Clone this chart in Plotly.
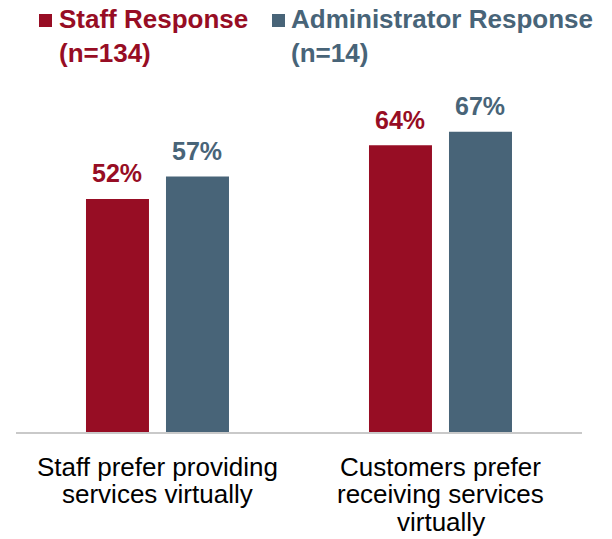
import plotly.graph_objects as go

# --- data ---------------------------------------------------------------
categories = [
    "Staff prefer providing<br>services virtually",
    "Customers prefer<br>receiving services<br>virtually",
]
staff_values = [52, 64]
admin_values = [57, 67]
series_names = ["Staff Response", "Administrator Response"]
series_counts = ["(n=134)", "(n=14)"]

# --- styling ------------------------------------------------------------
STAFF_COLOR = "#970D24"
ADMIN_COLOR = "#486478"
FONT = "Liberation Sans, Arial, sans-serif"
W, H = 612, 539
M_L, M_R, M_T, M_B = 16, 30, 100, 107
PLOT_W = W - M_L - M_R
PLOT_H = H - M_T - M_B

BAR_W = 0.2226          # in category units
STAFF_OFF = -0.2527
ADMIN_OFF = 0.0300
Y_MAX = 74.1

x_idx = list(range(len(categories)))

fig = go.Figure()
fig.add_trace(go.Bar(
    x=categories, y=staff_values, name=series_names[0],
    marker=dict(color=STAFF_COLOR, line=dict(width=0)),
    width=BAR_W, offset=STAFF_OFF, showlegend=False,
))
fig.add_trace(go.Bar(
    x=categories, y=admin_values, name=series_names[1],
    marker=dict(color=ADMIN_COLOR, line=dict(width=0)),
    width=BAR_W, offset=ADMIN_OFF, showlegend=False,
))

annotations = []

# value labels above each bar
for vals, off, color in ((staff_values, STAFF_OFF, STAFF_COLOR),
                         (admin_values, ADMIN_OFF, ADMIN_COLOR)):
    for i, v in zip(x_idx, vals):
        annotations.append(dict(
            x=i + off + BAR_W / 2, y=v, xref="x", yref="y",
            text=f"{v}%", showarrow=False,
            xanchor="center", yanchor="middle", yshift=25.7,
            borderpad=0, borderwidth=0,
            font=dict(family=FONT, size=25, color=color, weight="bold"),
        ))

# category labels under the axis, one line at a time
line_shifts = [-35, -62.3, -89.7]
for i, cat in zip(x_idx, categories):
    for k, line in enumerate(cat.split("<br>")):
        annotations.append(dict(
            x=i, y=0, xref="x", yref="paper",
            text=line, showarrow=False,
            xanchor="center", yanchor="middle", yshift=line_shifts[k],
            borderpad=0, borderwidth=0,
            font=dict(family=FONT, size=26, color="#000000"),
        ))

# legend: colored squares with two-line captions
legend_items = [
    (series_names[0], series_counts[0], STAFF_COLOR, 39, 58.5),
    (series_names[1], series_counts[1], ADMIN_COLOR, 272, 290.5),
]
shapes = []
SQ = 13
for name, count, color, sq_px, txt_px in legend_items:
    shapes.append(dict(
        type="rect", xref="paper", yref="paper",
        x0=(sq_px - M_L) / PLOT_W, x1=(sq_px + SQ - M_L) / PLOT_W,
        y0=(M_T + PLOT_H - 27) / PLOT_H, y1=(M_T + PLOT_H - 14) / PLOT_H,
        fillcolor=color, line=dict(width=0),
    ))
    annotations.append(dict(
        x=0, y=1, xref="paper", yref="paper",
        text=f"{name}<br>{count}", showarrow=False, align="left",
        xanchor="left", yanchor="middle",
        xshift=txt_px - M_L, yshift=M_T - 36,
        borderpad=0, borderwidth=0,
        font=dict(family=FONT, size=26, color=color, weight="bold"),
    ))

# rectangle y coordinates above were written relative to the bottom; fix to paper
for s in shapes:
    y_top_px, y_bot_px = 14, 27
    s["y0"] = (M_T + PLOT_H - y_bot_px) / PLOT_H
    s["y1"] = (M_T + PLOT_H - y_top_px) / PLOT_H

fig.update_layout(
    width=W, height=H,
    margin=dict(l=M_L, r=M_R, t=M_T, b=M_B, pad=0),
    paper_bgcolor="white", plot_bgcolor="white",
    barmode="overlay",
    showlegend=False,
    annotations=annotations,
    shapes=shapes,
    font=dict(family=FONT),
    xaxis=dict(
        type="category", range=[-0.5, 1.5],
        showticklabels=False, ticks="", showgrid=False, zeroline=False,
        showline=True, linecolor="#C9C9C9", linewidth=2,
        fixedrange=True,
    ),
    yaxis=dict(
        range=[0, Y_MAX], visible=False, showgrid=False, zeroline=False,
        fixedrange=True,
    ),
)

fig.write_html("out.html")
